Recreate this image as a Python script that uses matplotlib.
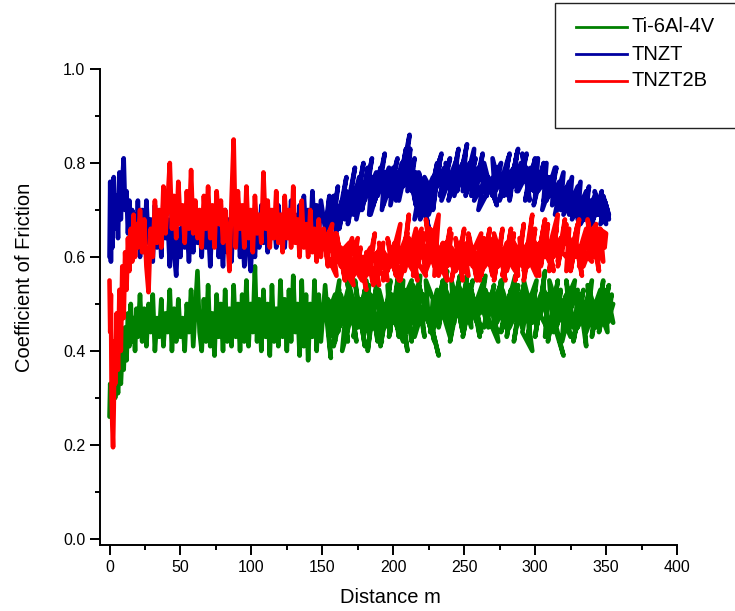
import matplotlib.pyplot as plt
from matplotlib.lines import Line2D
from matplotlib.patches import Rectangle
from matplotlib.ticker import MultipleLocator, FormatStrFormatter

plt.rcParams['font.family'] = ['Liberation Sans', 'DejaVu Sans']

# sliding distance (m) shared by the middle stretch of every trace
dist_mid = [21.5, 23, 24.5, 26, 27.5, 29, 30.5, 32, 33.5, 35, 36.5, 38, 39.5, 41, 42.5,
            44, 45.5, 47, 48.5, 50, 51.5, 53, 54.5, 56, 57.5, 59, 60.5, 62, 63.5, 65,
            66.5, 68, 69.5, 71, 72.5, 74, 75.5, 77, 78.5, 80, 81.5, 83, 84.5, 86, 87.5,
            89, 90.5, 92, 93.5, 95, 96.5, 98, 99.5, 101, 102.5, 104, 105.5, 107, 108.5,
            110, 111.5, 113, 114.5, 116, 117.5, 119, 120.5, 122, 123.5, 125, 126.5, 128,
            129.5, 131, 132.5, 134, 135.5, 137, 138.5, 140, 141.5, 143, 144.5, 146, 147.5, 149]

# Ti-6Al-4V
ti_start = [(0, 0.26), (0.5, 0.33), (1, 0.28), (1.5, 0.31), (2, 0.29), (3, 0.33), (4, 0.30),
            (5, 0.35), (6, 0.31), (7, 0.37), (8, 0.33), (9, 0.40), (10, 0.36), (11, 0.45),
            (12, 0.38), (13, 0.48), (14, 0.41), (15, 0.50), (16, 0.42), (17, 0.47), (18, 0.40),
            (19, 0.49), (20, 0.43)]
ti_mid = [0.52, 0.42, 0.49, 0.41, 0.50, 0.44, 0.52, 0.40, 0.47, 0.43,
          0.51, 0.41, 0.48, 0.44, 0.53, 0.40, 0.49, 0.42, 0.51, 0.43,
          0.47, 0.40, 0.50, 0.44, 0.53, 0.41, 0.49, 0.57, 0.44, 0.40,
          0.51, 0.42, 0.54, 0.41, 0.48, 0.39, 0.52, 0.43, 0.50, 0.40,
          0.53, 0.42, 0.49, 0.41, 0.54, 0.43, 0.50, 0.40, 0.52, 0.42,
          0.55, 0.41, 0.50, 0.44, 0.58, 0.42, 0.51, 0.40, 0.53, 0.43,
          0.50, 0.39, 0.54, 0.42, 0.49, 0.41, 0.55, 0.43, 0.51, 0.40,
          0.53, 0.42, 0.56, 0.44, 0.50, 0.39, 0.55, 0.41, 0.52, 0.38,
          0.50, 0.43, 0.55, 0.40, 0.52, 0.42]
ti_out = [(152, 0.54), (156, 0.385), (153, 0.47), (159, 0.52), (155, 0.43), (162, 0.55),
          (158, 0.41), (165, 0.50), (161, 0.44), (168, 0.53), (164, 0.40), (171, 0.48),
          (167, 0.56), (174, 0.42), (170, 0.51), (177, 0.45), (173, 0.55), (180, 0.41),
          (176, 0.49), (183, 0.54), (179, 0.43), (186, 0.51), (182, 0.40), (189, 0.56),
          (185, 0.46), (192, 0.42), (188, 0.53), (195, 0.48), (191, 0.41), (198, 0.55),
          (194, 0.45), (201, 0.51), (197, 0.43), (204, 0.57), (200, 0.47), (207, 0.42),
          (203, 0.53), (210, 0.40), (206, 0.50), (213, 0.55), (209, 0.44), (216, 0.52),
          (212, 0.46), (219, 0.56), (215, 0.43), (222, 0.50), (218, 0.54), (226, 0.45),
          (221, 0.52), (229, 0.42), (225, 0.48), (232, 0.39), (228, 0.44), (235, 0.55),
          (231, 0.47), (238, 0.57), (234, 0.50), (241, 0.44), (237, 0.53), (244, 0.48),
          (240, 0.42), (247, 0.56), (243, 0.50), (250, 0.45), (246, 0.54), (253, 0.49),
          (249, 0.43), (256, 0.55), (252, 0.51), (259, 0.46), (255, 0.53), (262, 0.44),
          (258, 0.50), (265, 0.56), (261, 0.48), (268, 0.52), (264, 0.45), (271, 0.54),
          (267, 0.47), (274, 0.42), (270, 0.50), (277, 0.55), (273, 0.46), (280, 0.51),
          (276, 0.44), (283, 0.53), (279, 0.48), (286, 0.56), (282, 0.45), (289, 0.50),
          (285, 0.42), (292, 0.54), (288, 0.47), (295, 0.51), (291, 0.44), (298, 0.40),
          (294, 0.49), (301, 0.55), (297, 0.46), (304, 0.52), (300, 0.43), (307, 0.57),
          (303, 0.48), (310, 0.44), (306, 0.53), (313, 0.49), (309, 0.42), (316, 0.55),
          (312, 0.47), (320, 0.39), (315, 0.45), (322, 0.52), (318, 0.48), (325, 0.43),
          (321, 0.50), (328, 0.55), (324, 0.46), (331, 0.49), (327, 0.42), (334, 0.53),
          (330, 0.45), (337, 0.51), (333, 0.47), (340, 0.55), (336, 0.44), (343, 0.50),
          (339, 0.47), (346, 0.53), (342, 0.46), (349, 0.51), (345, 0.44), (352, 0.54),
          (348, 0.47), (355, 0.50), (351, 0.46), (354, 0.52), (350, 0.48), (355, 0.46)]
ti_back = [(353, 0.49), (349, 0.53), (351, 0.44), (346, 0.48), (348, 0.55), (343, 0.45),
           (345, 0.51), (340, 0.43), (342, 0.49), (337, 0.54), (339, 0.46), (334, 0.50),
           (336, 0.41), (331, 0.52), (333, 0.47), (328, 0.44), (330, 0.53), (325, 0.49),
           (327, 0.45), (322, 0.55), (324, 0.48), (319, 0.42), (321, 0.51), (316, 0.46),
           (318, 0.53), (313, 0.44), (315, 0.50), (310, 0.55), (312, 0.47), (307, 0.43),
           (309, 0.52), (304, 0.48), (306, 0.54), (301, 0.45), (303, 0.50), (298, 0.46),
           (300, 0.53), (295, 0.43), (297, 0.49), (292, 0.55), (294, 0.47), (289, 0.52),
           (291, 0.45), (286, 0.49), (288, 0.54), (283, 0.46), (285, 0.51), (280, 0.43),
           (282, 0.48), (277, 0.53), (279, 0.45), (274, 0.50), (276, 0.55), (271, 0.47),
           (273, 0.44), (268, 0.51), (270, 0.48), (265, 0.53), (267, 0.45), (262, 0.50),
           (264, 0.55), (259, 0.47), (261, 0.43), (256, 0.51), (258, 0.48), (253, 0.54),
           (255, 0.45), (250, 0.50), (252, 0.56), (247, 0.47), (249, 0.44), (244, 0.52),
           (246, 0.49), (241, 0.55), (243, 0.46), (238, 0.51), (240, 0.43), (235, 0.48),
           (237, 0.54), (232, 0.45), (234, 0.50), (229, 0.47), (231, 0.53), (226, 0.44),
           (228, 0.51), (223, 0.55), (225, 0.46), (220, 0.49), (222, 0.43), (217, 0.52),
           (219, 0.47), (214, 0.54), (216, 0.45), (211, 0.50), (213, 0.42), (208, 0.53),
           (210, 0.48), (205, 0.45), (207, 0.55), (202, 0.49), (204, 0.43), (199, 0.52),
           (201, 0.46), (196, 0.54), (198, 0.44), (193, 0.50), (195, 0.47), (190, 0.53),
           (192, 0.45), (187, 0.48), (189, 0.42), (184, 0.52), (186, 0.46), (181, 0.55),
           (183, 0.44), (178, 0.49), (180, 0.53), (175, 0.45), (177, 0.51), (172, 0.43),
           (174, 0.48), (169, 0.54), (171, 0.46), (166, 0.50), (168, 0.42), (163, 0.52),
           (165, 0.47), (160, 0.44), (162, 0.53), (157, 0.49), (159, 0.42), (154, 0.51),
           (156, 0.46), (151, 0.50)]

# TNZT
tnzt_start = [(0, 0.60), (0.5, 0.76), (1, 0.59), (1.5, 0.74), (2, 0.62), (3, 0.77), (4, 0.66),
              (5, 0.73), (6, 0.64), (7, 0.78), (8, 0.68), (9, 0.76), (10, 0.81), (11, 0.70),
              (12, 0.74), (13, 0.65), (14, 0.72), (15, 0.63), (16, 0.70), (17, 0.62),
              (18, 0.69), (19, 0.64), (20, 0.72)]
tnzt_mid = [0.60, 0.70, 0.61, 0.72, 0.63, 0.68, 0.59, 0.71, 0.62, 0.69,
            0.60, 0.72, 0.64, 0.68, 0.58, 0.70, 0.61, 0.56, 0.66, 0.60,
            0.70, 0.62, 0.67, 0.59, 0.69, 0.61, 0.71, 0.63, 0.68, 0.60,
            0.70, 0.62, 0.67, 0.58, 0.69, 0.63, 0.71, 0.60, 0.66, 0.58,
            0.70, 0.61, 0.68, 0.59, 0.71, 0.64, 0.69, 0.60, 0.67, 0.58,
            0.70, 0.62, 0.57, 0.66, 0.60, 0.69, 0.62, 0.71, 0.63, 0.68,
            0.61, 0.70, 0.64, 0.68, 0.62, 0.71, 0.65, 0.69, 0.62, 0.70,
            0.64, 0.72, 0.66, 0.69, 0.63, 0.71, 0.66, 0.73, 0.65, 0.70,
            0.63, 0.74, 0.66, 0.71, 0.64, 0.72]
tnzt_out = [(152, 0.66), (155, 0.73), (152, 0.62), (158, 0.70), (155, 0.64), (161, 0.75),
            (158, 0.67), (164, 0.72), (160, 0.66), (167, 0.77), (163, 0.69), (170, 0.74),
            (166, 0.68), (173, 0.79), (169, 0.71), (176, 0.76), (172, 0.69), (179, 0.80),
            (175, 0.72), (182, 0.77), (178, 0.70), (185, 0.81), (181, 0.73), (188, 0.78),
            (184, 0.69), (191, 0.76), (187, 0.72), (194, 0.82), (190, 0.74), (197, 0.79),
            (193, 0.71), (200, 0.77), (196, 0.73), (203, 0.81), (199, 0.75), (206, 0.78),
            (202, 0.72), (209, 0.83), (205, 0.76), (211.5, 0.86), (208, 0.77), (213, 0.74),
            (210, 0.80), (216, 0.71), (212, 0.78), (219, 0.75), (215, 0.68), (222, 0.73),
            (218, 0.78), (225, 0.66), (221, 0.72), (228, 0.77), (224, 0.70), (231, 0.80),
            (227, 0.74), (234, 0.82), (230, 0.76), (237, 0.79), (233, 0.73), (240, 0.81),
            (236, 0.75), (243, 0.78), (239, 0.72), (246, 0.83), (242, 0.76), (249, 0.80),
            (245, 0.74), (252, 0.84), (248, 0.77), (255, 0.79), (251, 0.73), (258, 0.81),
            (254, 0.75), (261, 0.78), (257, 0.72), (264, 0.76), (260, 0.70), (267, 0.74),
            (263, 0.79), (270, 0.73), (266, 0.77), (273, 0.71), (269, 0.76), (276, 0.80),
            (272, 0.74), (279, 0.78), (275, 0.72), (282, 0.82), (278, 0.76), (285, 0.79),
            (281, 0.73), (288, 0.83), (284, 0.77), (291, 0.80), (287, 0.74), (294, 0.82),
            (290, 0.76), (297, 0.79), (293, 0.72), (300, 0.81), (296, 0.75), (303, 0.78),
            (299, 0.71), (306, 0.80), (302, 0.74), (309, 0.77), (305, 0.70), (312, 0.76),
            (308, 0.72), (315, 0.79), (311, 0.73), (318, 0.75), (314, 0.69), (321, 0.74),
            (317, 0.71), (324, 0.76), (320, 0.69), (327, 0.73), (323, 0.70), (330, 0.75),
            (326, 0.68), (333, 0.72), (329, 0.69), (336, 0.74), (332, 0.67), (339, 0.71),
            (335, 0.68), (342, 0.73), (338, 0.66), (345, 0.72), (341, 0.68), (347, 0.74),
            (344, 0.69), (350, 0.71), (346, 0.67), (352, 0.69), (349, 0.72), (352, 0.68)]
tnzt_back = [(351, 0.70), (348, 0.73), (350, 0.67), (345, 0.71), (347, 0.68), (342, 0.74),
             (344, 0.69), (339, 0.72), (341, 0.67), (336, 0.70), (338, 0.75), (333, 0.69),
             (335, 0.73), (330, 0.68), (332, 0.76), (327, 0.71), (329, 0.74), (324, 0.69),
             (326, 0.77), (321, 0.72), (323, 0.75), (318, 0.70), (320, 0.78), (315, 0.73),
             (317, 0.76), (312, 0.71), (314, 0.79), (309, 0.74), (311, 0.77), (306, 0.72),
             (308, 0.80), (303, 0.75), (305, 0.78), (300, 0.73), (302, 0.81), (297, 0.76),
             (299, 0.74), (294, 0.79), (296, 0.72), (291, 0.82), (293, 0.77), (288, 0.74),
             (290, 0.80), (285, 0.75), (287, 0.82), (282, 0.72), (284, 0.78), (279, 0.74),
             (281, 0.81), (276, 0.76), (278, 0.73), (273, 0.79), (275, 0.75), (270, 0.81),
             (272, 0.72), (267, 0.77), (269, 0.74), (264, 0.80), (266, 0.73), (261, 0.78),
             (263, 0.82), (258, 0.75), (260, 0.79), (255, 0.73), (257, 0.83), (252, 0.77),
             (254, 0.80), (249, 0.74), (251, 0.82), (246, 0.76), (248, 0.79), (243, 0.73),
             (245, 0.81), (240, 0.77), (242, 0.74), (237, 0.80), (239, 0.76), (234, 0.72),
             (236, 0.79), (231, 0.75), (233, 0.81), (228, 0.70), (230, 0.76), (225, 0.69),
             (227, 0.74), (222, 0.77), (224, 0.71), (219, 0.68), (221, 0.75), (216, 0.78),
             (218, 0.72), (213, 0.76), (215, 0.81), (210, 0.74), (212, 0.83), (207, 0.75),
             (209, 0.79), (204, 0.72), (206, 0.80), (201, 0.74), (203, 0.78), (198, 0.71),
             (200, 0.79), (195, 0.74), (197, 0.77), (192, 0.70), (194, 0.78), (189, 0.73),
             (191, 0.79), (186, 0.71), (188, 0.76), (183, 0.69), (185, 0.77), (180, 0.72),
             (182, 0.79), (177, 0.70), (179, 0.75), (174, 0.68), (176, 0.77), (171, 0.71),
             (173, 0.74), (168, 0.67), (170, 0.72), (165, 0.69), (167, 0.74), (162, 0.66),
             (164, 0.71), (159, 0.64), (161, 0.70), (156, 0.67), (158, 0.73), (153, 0.65),
             (155, 0.70), (151, 0.64)]

# TNZT2B
tnzt2b_start = [(0, 0.55), (0.5, 0.44), (1, 0.52), (1.5, 0.30), (2, 0.24), (2.5, 0.195),
                (3, 0.28), (3.5, 0.42), (4, 0.33), (5, 0.48), (6, 0.36), (7, 0.53), (8, 0.40),
                (9, 0.58), (10, 0.47), (11, 0.61), (12, 0.53), (13, 0.64), (14, 0.57),
                (15, 0.66), (16, 0.59), (17, 0.69), (18, 0.60), (19, 0.67), (20, 0.62)]
tnzt2b_mid = [0.70, 0.61, 0.68, 0.58, 0.525, 0.66, 0.60, 0.72, 0.63, 0.70,
              0.62, 0.75, 0.65, 0.72, 0.80, 0.66, 0.73, 0.64, 0.76, 0.67,
              0.71, 0.63, 0.74, 0.66, 0.785, 0.65, 0.72, 0.64, 0.70, 0.62,
              0.73, 0.66, 0.75, 0.64, 0.71, 0.62, 0.74, 0.67, 0.72, 0.63,
              0.70, 0.65, 0.57, 0.72, 0.85, 0.62, 0.74, 0.66, 0.71, 0.62,
              0.75, 0.64, 0.70, 0.61, 0.73, 0.65, 0.69, 0.63, 0.78, 0.66,
              0.72, 0.62, 0.70, 0.64, 0.74, 0.63, 0.69, 0.61, 0.73, 0.64,
              0.70, 0.62, 0.75, 0.63, 0.68, 0.60, 0.72, 0.62, 0.67, 0.60,
              0.70, 0.61, 0.66, 0.59, 0.68, 0.60]
tnzt2b_out = [(151, 0.66), (154, 0.58), (152, 0.63), (157, 0.67), (154, 0.60), (160, 0.56),
              (157, 0.64), (163, 0.58), (160, 0.65), (166, 0.55), (163, 0.61), (169, 0.63),
              (166, 0.57), (172, 0.54), (169, 0.60), (175, 0.64), (172, 0.58), (178, 0.55),
              (175, 0.61), (181, 0.53), (178, 0.59), (184, 0.62), (181, 0.56), (187, 0.65),
              (184, 0.58), (190, 0.54), (187, 0.60), (193, 0.63), (190, 0.57), (196, 0.55),
              (193, 0.61), (199, 0.58), (196, 0.64), (202, 0.56), (199, 0.60), (205, 0.67),
              (202, 0.59), (208, 0.62), (205, 0.55), (211, 0.69), (208, 0.60), (214, 0.57),
              (211, 0.64), (217, 0.55), (214, 0.62), (220, 0.66), (217, 0.59), (223, 0.56),
              (220, 0.63), (226, 0.60), (223, 0.68), (229, 0.58), (226, 0.62), (232, 0.69),
              (229, 0.56), (235, 0.63), (232, 0.59), (238, 0.55), (235, 0.61), (241, 0.65),
              (238, 0.58), (244, 0.60), (241, 0.55), (247, 0.63), (244, 0.57), (250, 0.66),
              (247, 0.59), (253, 0.56), (250, 0.62), (256, 0.58), (253, 0.64), (259, 0.55),
              (256, 0.61), (262, 0.65), (259, 0.59), (265, 0.62), (262, 0.56), (268, 0.66),
              (265, 0.60), (271, 0.57), (268, 0.64), (274, 0.61), (271, 0.55), (277, 0.66),
              (274, 0.58), (280, 0.63), (277, 0.56), (283, 0.66), (280, 0.60), (286, 0.57),
              (283, 0.64), (289, 0.61), (286, 0.55), (292, 0.67), (289, 0.59), (295, 0.63),
              (292, 0.57), (298, 0.69), (295, 0.60), (301, 0.56), (298, 0.64), (304, 0.61),
              (301, 0.58), (307, 0.68), (304, 0.63), (310, 0.59), (307, 0.65), (313, 0.57),
              (310, 0.62), (316, 0.69), (313, 0.60), (319, 0.64), (316, 0.58), (322, 0.67),
              (319, 0.61), (325, 0.59), (322, 0.65), (328, 0.62), (325, 0.57), (331, 0.68),
              (328, 0.60), (334, 0.63), (331, 0.58), (337, 0.66), (334, 0.61), (340, 0.59),
              (337, 0.64), (343, 0.67), (340, 0.62), (346, 0.60), (343, 0.65), (348, 0.63),
              (345, 0.66), (350, 0.65)]
tnzt2b_back = [(349, 0.62), (346, 0.66), (348, 0.59), (343, 0.63), (345, 0.57), (340, 0.65),
               (342, 0.60), (337, 0.68), (339, 0.62), (334, 0.58), (336, 0.66), (331, 0.61),
               (333, 0.56), (328, 0.64), (330, 0.67), (325, 0.60), (327, 0.63), (322, 0.57),
               (324, 0.66), (319, 0.62), (321, 0.68), (316, 0.59), (318, 0.64), (313, 0.61),
               (315, 0.66), (310, 0.57), (312, 0.63), (307, 0.60), (309, 0.67), (304, 0.58),
               (306, 0.64), (301, 0.62), (303, 0.56), (298, 0.61), (300, 0.66), (295, 0.58),
               (297, 0.63), (292, 0.55), (294, 0.60), (289, 0.64), (291, 0.58), (286, 0.62),
               (288, 0.56), (283, 0.60), (285, 0.65), (280, 0.57), (282, 0.62), (277, 0.59),
               (279, 0.55), (274, 0.63), (276, 0.60), (271, 0.65), (273, 0.58), (268, 0.61),
               (270, 0.56), (265, 0.63), (267, 0.59), (262, 0.57), (264, 0.64), (259, 0.60),
               (261, 0.55), (256, 0.62), (258, 0.58), (253, 0.65), (255, 0.60), (250, 0.57),
               (252, 0.63), (247, 0.60), (249, 0.55), (244, 0.64), (246, 0.59), (241, 0.62),
               (243, 0.57), (238, 0.61), (240, 0.66), (235, 0.58), (237, 0.63), (232, 0.56),
               (234, 0.60), (229, 0.64), (231, 0.59), (226, 0.66), (228, 0.61), (223, 0.57),
               (225, 0.63), (220, 0.60), (222, 0.65), (217, 0.58), (219, 0.62), (214, 0.56),
               (216, 0.66), (211, 0.60), (213, 0.63), (208, 0.57), (210, 0.65), (205, 0.61),
               (207, 0.58), (202, 0.62), (204, 0.55), (199, 0.59), (201, 0.63), (196, 0.57),
               (198, 0.61), (193, 0.55), (195, 0.60), (190, 0.63), (192, 0.58), (187, 0.56),
               (189, 0.61), (184, 0.59), (186, 0.54), (181, 0.61), (183, 0.57), (178, 0.60),
               (180, 0.55), (175, 0.58), (177, 0.62), (172, 0.56), (174, 0.60), (169, 0.58),
               (171, 0.64), (166, 0.60), (168, 0.56), (163, 0.62), (165, 0.59), (160, 0.64),
               (162, 0.60), (157, 0.58), (159, 0.65), (154, 0.61), (156, 0.66), (151, 0.63)]


def build_trace(start, mid, out, back):
    # ramp-up, steady middle stretch, then the scribbled pass out to the end and back
    pairs = list(start) + list(zip(dist_mid, mid)) + list(out) + list(back)
    xs = [p[0] for p in pairs]
    ys = [p[1] for p in pairs]
    return xs, ys


series = [
    ('Ti-6Al-4V', '#008000', build_trace(ti_start, ti_mid, ti_out, ti_back)),
    ('TNZT', '#0000A0', build_trace(tnzt_start, tnzt_mid, tnzt_out, tnzt_back)),
    ('TNZT2B', '#FF0000', build_trace(tnzt2b_start, tnzt2b_mid, tnzt2b_out, tnzt2b_back)),
]

fig = plt.figure(figsize=(7.35, 6.11), dpi=100)
ax = fig.add_axes([100 / 735, 66 / 611, 577 / 735, 476 / 611])

for name, colour, (xs, ys) in series:
    ax.plot(xs, ys, color=colour, lw=3.3, solid_joinstyle='round', solid_capstyle='round')

ax.set_xlim(-6.7, 400)
ax.set_ylim(-0.013, 1.0)

ax.spines['top'].set_visible(False)
ax.spines['right'].set_visible(False)
for side in ('left', 'bottom'):
    ax.spines[side].set_linewidth(1.4)

ax.xaxis.set_major_locator(MultipleLocator(50))
ax.xaxis.set_minor_locator(MultipleLocator(25))
ax.yaxis.set_major_locator(MultipleLocator(0.2))
ax.yaxis.set_minor_locator(MultipleLocator(0.1))
ax.yaxis.set_major_formatter(FormatStrFormatter('%.1f'))
ax.tick_params(which='major', direction='out', length=7, width=1.4, labelsize=11.5)
ax.tick_params(which='minor', direction='out', length=3.5, width=1.4)

ax.text(0.5026, -0.111, 'Distance m', transform=ax.transAxes, fontsize=14.5,
        ha='center', va='center')
ax.text(-0.130, 0.563, 'Coefficient of Friction', transform=ax.transAxes, fontsize=14.5,
        rotation=90, ha='center', va='center')

# legend box in the top right corner, running off the right edge
fig.add_artist(Rectangle((555 / 735, 1 - 128 / 611), 0.3, 125 / 611,
                         transform=fig.transFigure, facecolor='white',
                         edgecolor='#222222', lw=1.0, clip_on=False))
for i, (name, colour, _) in enumerate(series):
    y = 1 - (27 + 27 * i) / 611
    fig.add_artist(Line2D([576 / 735, 627 / 735], [y, y], transform=fig.transFigure,
                          color=colour, lw=2.0))
    fig.text(632 / 735, y, name, fontsize=14.5, ha='left', va='center')

fig.savefig('out.png', dpi=100)
